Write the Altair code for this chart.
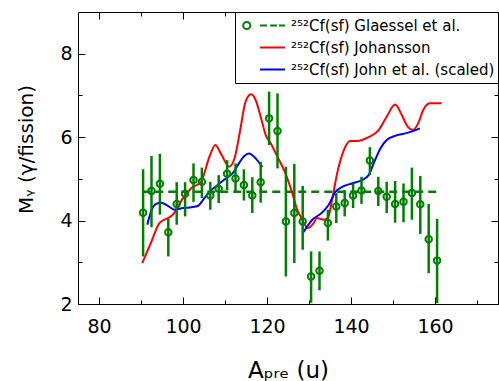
import altair as alt
import pandas as pd

# ---------------- data ----------------
S_G = "²⁵²Cf(sf) Glaessel et al."
S_J = "²⁵²Cf(sf) Johansson"
S_N = "²⁵²Cf(sf) John et al. (scaled)"
series_names = [S_G, S_J, S_N]

glaessel_A = [90.5, 92.5, 94.5, 96.5, 98.5, 100.5, 102.5, 104.5, 106.5, 108.5,
              110.5, 112.5, 114.5, 116.5, 118.5, 120.5, 122.5, 124.5, 126.5, 128.5,
              130.5, 132.5, 134.5, 136.5, 138.5, 140.5, 142.5, 144.5, 146.5, 148.5,
              150.5, 152.5, 154.5, 156.5, 158.5, 160.5]
glaessel_M = [4.19, 4.71, 4.88, 3.72, 4.40, 4.64, 4.97, 4.93, 4.60, 4.76,
              5.12, 5.01, 4.85, 4.60, 4.92, 6.45, 6.15, 3.98, 4.18, 3.98,
              2.66, 2.80, 3.94, 4.34, 4.42, 4.60, 4.72, 5.44, 4.71, 4.57,
              4.40, 4.45, 4.66, 4.39, 3.55, 3.04]
glaessel_hi = [5.23, 5.55, 5.60, 4.04, 4.92, 4.92, 5.37, 5.27, 4.93, 5.09,
               5.45, 5.37, 5.23, 5.04, 5.41, 7.09, 7.05, 5.29, 5.36, 4.83,
               3.26, 3.26, 4.26, 4.66, 4.73, 4.89, 5.05, 5.76, 5.05, 4.93,
               4.95, 4.89, 5.27, 5.07, 4.40, 4.04]
glaessel_lo = [3.14, 3.84, 4.14, 3.14, 3.90, 4.10, 4.45, 4.54, 4.26, 4.42,
               4.73, 4.66, 4.48, 4.18, 4.43, 5.81, 5.25, 2.66, 2.98, 3.30,
               2.03, 2.33, 3.52, 3.94, 4.10, 4.30, 4.40, 5.09, 4.35, 4.18,
               3.95, 3.96, 4.02, 3.68, 2.74, 2.02]

mean_A = [90.3, 161.0]
mean_M = [4.69, 4.69]

johansson_A = [90.3, 92.3, 94.4, 97.6, 100.0, 102.0, 104.3, 106.3, 107.7, 109.0,
               111.0, 112.3, 113.5, 114.9, 116.2, 117.3, 118.5, 119.7, 120.9, 122.5,
               124.4, 126.0, 127.2, 128.4, 129.7, 131.1, 131.9, 133.5, 134.5, 135.5,
               136.7, 138.3, 139.8, 141.4, 144.2, 146.6, 148.5, 150.5, 152.1, 153.5,
               154.7, 156.0, 157.2, 158.8, 161.6]
johansson_M = [2.98, 3.45, 3.94, 4.14, 4.54, 4.78, 4.93, 5.53, 5.81, 5.61,
               5.29, 5.50, 6.10, 6.85, 7.03, 6.89, 6.49, 6.05, 5.85, 5.53,
               5.13, 4.66, 4.26, 4.02, 3.82, 3.94, 4.06, 4.02, 4.06, 4.50,
               5.13, 5.69, 5.91, 5.91, 6.00, 6.17, 6.49, 6.78, 6.53, 6.25,
               6.17, 6.33, 6.65, 6.81, 6.81]

john1_A = [91.5, 92.4, 93.6, 94.8, 96.4, 98.0, 100.0, 102.0, 103.5, 105.1,
           106.7, 108.6, 110.2, 111.8, 113.5, 114.6, 115.7, 117.3, 118.9]
john1_M = [3.90, 4.22, 4.40, 4.43, 4.35, 4.26, 4.30, 4.32, 4.35, 4.54,
           4.73, 4.88, 5.01, 5.13, 5.40, 5.55, 5.61, 5.49, 5.28]
john2_A = [128.4, 130.8, 133.1, 134.7, 136.3, 137.9, 140.2, 142.6, 144.2, 145.4,
           147.0, 148.5, 150.5, 152.9, 154.9, 156.4]
john2_M = [3.68, 4.02, 4.19, 4.38, 4.69, 4.81, 4.89, 4.97, 5.09, 5.37,
           5.73, 5.93, 6.03, 6.09, 6.15, 6.21]

x_major = [80, 100, 120, 140, 160]
x_minor = [90, 110, 130, 150, 170]
y_major = [2, 4, 6, 8]
y_minor = [3, 5, 7]

# ---------------- tables ----------------
pts = pd.DataFrame({"A": glaessel_A, "M": glaessel_M, "hi": glaessel_hi,
                    "lo": glaessel_lo, "series": S_G})
mean_df = pd.DataFrame({"A": mean_A, "M": mean_M, "series": S_G})
red_df = pd.DataFrame({"A": johansson_A, "M": johansson_M, "series": S_J})
blue_df = pd.concat([
    pd.DataFrame({"A": john1_A, "M": john1_M, "series": S_N, "seg": "b1"}),
    pd.DataFrame({"A": john2_A, "M": john2_M, "series": S_N, "seg": "b2"}),
], ignore_index=True)
legend_df = pd.concat([pts[["A", "M", "series"]], red_df, blue_df[["A", "M", "series"]]],
                      ignore_index=True)

# ---------------- styling ----------------
W, H = 420, 292
FONT = "DejaVu Sans"
GREEN, RED, BLUE = "#008000", "#ff0000", "#0000ff"

xs = alt.Scale(domain=[75, 175], nice=False, zero=False)
ys = alt.Scale(domain=[2, 9], nice=False, zero=False)
cscale = alt.Scale(domain=series_names, range=[GREEN, RED, BLUE])
shape_paths = [
    "M-0.65,0A0.17,0.17,0,1,1,-0.99,0A0.17,0.17,0,1,1,-0.65,0"
    "M-0.19,0L0.14,0M0.29,0L0.62,0M0.71,0L1,0",
    "M-0.19,0L1,0",
    "M-0.19,0L1,0",
]
sscale = alt.Scale(domain=series_names, range=shape_paths)


def tick_axis(orient, values, size, offset):
    return alt.Axis(orient=orient, values=values, tickSize=size, offset=offset,
                    labels=False, domain=False, grid=False, title=None,
                    tickColor="black", tickWidth=1)


main_x = alt.Axis(orient="bottom", values=x_major, ticks=False, tickSize=0,
                  domain=False, grid=False, labelFont=FONT, labelFontSize=19,
                  labelColor="black", labelPadding=13,
                  title="Aₚᵣₑ (u)", titleFont=FONT, titleFontSize=23,
                  titleFontWeight="normal", titleColor="black",
                  titleBaseline="alphabetic", titleY=73)
main_y = alt.Axis(orient="left", values=y_major, ticks=False, tickSize=0,
                  domain=False, grid=False, labelFont=FONT, labelFontSize=19,
                  labelColor="black", labelPadding=6,
                  title="Mᵧ (γ/fission)", titleFont=FONT, titleFontSize=20,
                  titleFontWeight="normal", titleColor="black",
                  titleBaseline="alphabetic", titleX=-46, titleY=137)

legend = alt.Legend(title=None, orient="top-right", offset=0, padding=3,
                    strokeColor="black", fillColor="white",
                    labelFont=FONT, labelFontSize=15, labelColor="black",
                    labelLimit=400, labelOffset=5,
                    symbolSize=1764, symbolStrokeWidth=2, symbolOpacity=1,
                    symbolOffset=4, clipHeight=21, rowPadding=1)

mean_layer = alt.Chart(mean_df).mark_line(
    color=GREEN, strokeWidth=2.5, strokeDash=[8, 5], clip=True
).encode(
    x=alt.X("A:Q", scale=xs, axis=tick_axis("top", x_major, 7, -H)),
    y=alt.Y("M:Q", scale=ys, axis=tick_axis("right", y_major, 7, -W)),
)

red_layer = alt.Chart(red_df).mark_line(
    color=RED, strokeWidth=2, interpolate="monotone", clip=True
).encode(
    x=alt.X("A:Q", scale=xs, axis=tick_axis("top", x_minor, 4, -H)),
    y=alt.Y("M:Q", scale=ys, axis=tick_axis("right", y_minor, 4, -W)),
)

blue_layer = alt.Chart(blue_df).mark_line(
    color=BLUE, strokeWidth=2, interpolate="monotone", clip=True
).encode(
    x=alt.X("A:Q", scale=xs, axis=None),
    y=alt.Y("M:Q", scale=ys, axis=None),
    detail="seg:N",
)

err_layer = alt.Chart(pts).mark_rule(
    color=GREEN, strokeWidth=2.5, clip=True
).encode(
    x=alt.X("A:Q", scale=xs, axis=tick_axis("bottom", x_major, 7, -H)),
    y=alt.Y("lo:Q", scale=ys, axis=tick_axis("left", y_major, 7, -W)),
    y2="hi:Q",
)

pt_layer = alt.Chart(pts).mark_point(
    color=GREEN, filled=False, size=42, strokeWidth=2, opacity=1, clip=True
).encode(
    x=alt.X("A:Q", scale=xs, axis=main_x),
    y=alt.Y("M:Q", scale=ys, axis=main_y),
)

# invisible marks that only carry the legend
leg_layer = alt.Chart(legend_df).mark_point(
    filled=False, strokeWidth=2, clip=True
).encode(
    x=alt.X("A:Q", scale=xs, axis=tick_axis("bottom", x_minor, 4, -H)),
    y=alt.Y("M:Q", scale=ys, axis=tick_axis("left", y_minor, 4, -W)),
    color=alt.Color("series:N", scale=cscale, legend=legend),
    shape=alt.Shape("series:N", scale=sscale, legend=legend),
    opacity=alt.value(0),
)

chart = alt.layer(
    mean_layer, red_layer, blue_layer, err_layer, pt_layer, leg_layer
).resolve_axis(
    x="independent", y="independent"
).properties(
    width=W, height=H,
    autosize=alt.AutoSizeParams(type="none"),
    padding={"left": 78, "top": 12, "right": 1, "bottom": 77},
    background="white",
).configure_view(
    stroke="black", strokeWidth=1
)

chart.save("out.html", embed_options={"renderer": "svg", "actions": False})
